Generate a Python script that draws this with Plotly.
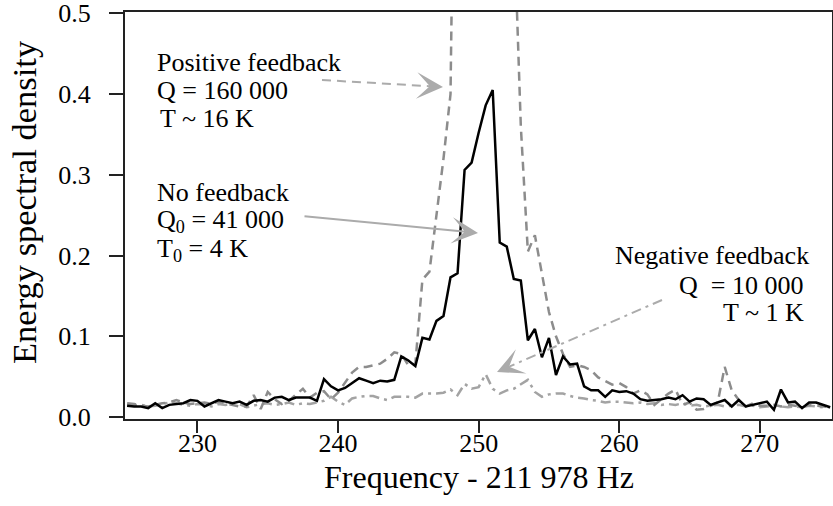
import plotly.graph_objects as go

# ---------------- data ----------------
freq = [225.0, 225.5, 226.0, 226.5, 227.0, 227.5, 228.0, 228.5, 229.0, 229.5,
        230.0, 230.5, 231.0, 231.5, 232.0, 232.5, 233.0, 233.5, 234.0, 234.5,
        235.0, 235.5, 236.0, 236.5, 237.0, 237.5, 238.0, 238.5, 239.0, 239.5,
        240.0, 240.5, 241.0, 241.5, 242.0, 242.5, 243.0, 243.5, 244.0, 244.5,
        245.0, 245.5, 246.0, 246.5, 247.0, 247.5, 248.0, 248.5, 249.0, 249.5,
        250.0, 250.5, 251.0, 251.5, 252.0, 252.5, 253.0, 253.5, 254.0, 254.5,
        255.0, 255.5, 256.0, 256.5, 257.0, 257.5, 258.0, 258.5, 259.0, 259.5,
        260.0, 260.5, 261.0, 261.5, 262.0, 262.5, 263.0, 263.5, 264.0, 264.5,
        265.0, 265.5, 266.0, 266.5, 267.0, 267.5, 268.0, 268.5, 269.0, 269.5,
        270.0, 270.5, 271.0, 271.5, 272.0, 272.5, 273.0, 273.5, 274.0, 274.5,
        275.0]

no_feedback = [0.014, 0.013, 0.013, 0.011, 0.017, 0.011, 0.015, 0.016, 0.017, 0.021,
               0.020, 0.013, 0.017, 0.021, 0.019, 0.017, 0.019, 0.015, 0.020, 0.021,
               0.019, 0.024, 0.025, 0.021, 0.024, 0.024, 0.024, 0.020, 0.047, 0.038,
               0.033, 0.036, 0.042, 0.048, 0.045, 0.042, 0.045, 0.044, 0.046, 0.075,
               0.070, 0.063, 0.098, 0.096, 0.119, 0.125, 0.173, 0.178, 0.306, 0.315,
               0.352, 0.386, 0.405, 0.216, 0.211, 0.171, 0.169, 0.095, 0.109, 0.074,
               0.098, 0.052, 0.075, 0.065, 0.066, 0.038, 0.033, 0.033, 0.025, 0.033,
               0.031, 0.032, 0.029, 0.022, 0.020, 0.021, 0.022, 0.024, 0.022, 0.027,
               0.019, 0.023, 0.022, 0.015, 0.018, 0.021, 0.013, 0.021, 0.013, 0.015,
               0.017, 0.019, 0.009, 0.034, 0.018, 0.019, 0.011, 0.018, 0.018, 0.015,
               0.012]

positive_feedback = [0.017, 0.016, 0.014, 0.013, 0.015, 0.017, 0.018, 0.021, 0.018, 0.016,
                     0.017, 0.018, 0.016, 0.019, 0.017, 0.015, 0.013, 0.013, 0.027, 0.010,
                     0.031, 0.022, 0.016, 0.020, 0.027, 0.035, 0.024, 0.030, 0.032, 0.022,
                     0.030, 0.042, 0.055, 0.062, 0.062, 0.064, 0.066, 0.072, 0.080, 0.078,
                     0.064, 0.066, 0.170, 0.180, 0.250, 0.320, 0.400, 1.600, 2.500, 3.200,
                     3.600, 3.800, 3.600, 3.000, 1.800, 0.620, 0.360, 0.205, 0.225, 0.178,
                     0.130, 0.100, 0.078, 0.062, 0.064, 0.062, 0.058, 0.049, 0.044, 0.040,
                     0.042, 0.037, 0.029, 0.033, 0.028, 0.015, 0.022, 0.029, 0.034, 0.015,
                     0.018, 0.009, 0.010, 0.014, 0.018, 0.062, 0.033, 0.021, 0.013, 0.017,
                     0.014, 0.014, 0.015, 0.013, 0.015, 0.014, 0.012, 0.015, 0.014, 0.013,
                     0.012]

negative_feedback = [0.015, 0.014, 0.015, 0.013, 0.014, 0.016, 0.018, 0.017, 0.015, 0.014,
                     0.016, 0.015, 0.013, 0.016, 0.015, 0.017, 0.016, 0.012, 0.014, 0.016,
                     0.017, 0.015, 0.016, 0.018, 0.015, 0.017, 0.016, 0.018, 0.020, 0.025,
                     0.019, 0.015, 0.023, 0.025, 0.026, 0.026, 0.023, 0.021, 0.025, 0.025,
                     0.025, 0.024, 0.029, 0.029, 0.029, 0.030, 0.034, 0.027, 0.041, 0.035,
                     0.037, 0.053, 0.035, 0.029, 0.033, 0.035, 0.041, 0.046, 0.031, 0.025,
                     0.028, 0.029, 0.029, 0.026, 0.024, 0.023, 0.021, 0.020, 0.018, 0.019,
                     0.019, 0.018, 0.017, 0.018, 0.016, 0.017, 0.015, 0.016, 0.015, 0.017,
                     0.014, 0.015, 0.013, 0.014, 0.015, 0.013, 0.014, 0.015, 0.013, 0.014,
                     0.012, 0.013, 0.014, 0.013, 0.012, 0.013, 0.012, 0.014, 0.013, 0.012,
                     0.012]

x_ticks = [230, 240, 250, 260, 270]
y_ticks = [0.0, 0.1, 0.2, 0.3, 0.4, 0.5]
x_title = "Frequency - 211 978 Hz"
y_title = "Energy spectral density"

# ---------------- layout geometry ----------------
W, H = 833, 506
L, R, T, B = 125, 1, 12, 87
X_RANGE = [224.85, 275.13]
Y_RANGE = [-0.0025, 0.5016]
PW, PH = W - L - R, H - T - B

def px2paper_x(px):
    return (px - L) / PW

def py2paper_y(py):
    return (H - B - py) / PH

FONT = "Liberation Serif, Times New Roman, serif"
DASH_COL = "#8c8c8c"
DDOT_COL = "#a3a3a3"
ARROW_COL = "#ababab"

fig = go.Figure()
fig.add_trace(go.Scatter(x=freq, y=negative_feedback, mode="lines",
                         line=dict(color=DDOT_COL, width=2.5, dash="10px,5px,3px,5px"),
                         name="Negative feedback"))
fig.add_trace(go.Scatter(x=freq, y=positive_feedback, mode="lines",
                         line=dict(color=DASH_COL, width=2.5, dash="9px,6px"),
                         name="Positive feedback"))
fig.add_trace(go.Scatter(x=freq, y=no_feedback, mode="lines",
                         line=dict(color="#000000", width=2.5),
                         name="No feedback"))

annotations = []
shapes = []

def text(px, py, s, anchor="left", size=26, angle=0):
    annotations.append(dict(x=px2paper_x(px), y=py2paper_y(py), xref="paper", yref="paper",
                            text=s, showarrow=False, xanchor=anchor, yanchor="middle",
                            textangle=angle,
                            font=dict(family=FONT, size=size, color="#000")))

text(155, 62, "Positive feedback")
text(155, 90, "Q = 160 000")
text(158, 118, "T ~ 16 K")
text(155, 193, "No feedback")
text(155, 221, "Q<sub>0</sub> = 41 000")
text(155, 250, "T<sub>0</sub> = 4 K")
text(811, 255, "Negative feedback", anchor="right")
text(805, 285, "Q\u00a0\u00a0= 10 000", anchor="right")
text(806, 312, "T ~ 1 K", anchor="right")

# axis titles
text(L + PW / 2, 477, x_title, anchor="center", size=32)
text(24, 202, y_title, anchor="center", size=34.5, angle=-90)

HEAD = dict(arrowhead=3, arrowsize=2.2, arrowwidth=2, arrowcolor=ARROW_COL,
            showarrow=True, text="", axref="pixel", ayref="pixel", standoff=0)

def arrow(x0, y0, x1, y1, dash=None, color=ARROW_COL):
    # x0,y0 tail ; x1,y1 tip (pixels)
    dx, dy = x0 - x1, y0 - y1
    ln = (dx * dx + dy * dy) ** 0.5
    if dash is None:
        annotations.append(dict(x=px2paper_x(x1), y=py2paper_y(y1), xref="paper", yref="paper",
                                ax=dx, ay=dy, **HEAD))
    else:
        nx, ny = x1 + dx / ln * 14, y1 + dy / ln * 14
        shapes.append(dict(type="line", xref="paper", yref="paper",
                           x0=px2paper_x(x0), y0=py2paper_y(y0),
                           x1=px2paper_x(nx), y1=py2paper_y(ny),
                           line=dict(color=color, width=2, dash=dash)))
        annotations.append(dict(x=px2paper_x(x1), y=py2paper_y(y1), xref="paper", yref="paper",
                                ax=dx / ln * 14, ay=dy / ln * 14, **HEAD))

arrow(322, 80, 443, 87, dash="9px,6px")
arrow(303, 216, 478, 233)
arrow(662, 300, 497, 372, dash="10px,5px,3px,5px")

axis_common = dict(showline=True, linecolor="#222", linewidth=2, mirror=True,
                   ticks="outside", ticklen=12, tickwidth=2, tickcolor="#222",
                   showgrid=False, zeroline=False, automargin=False,
                   ticklabeloverflow="allow",
                   tickfont=dict(family=FONT, size=26, color="#000"))

fig.update_layout(
    width=W, height=H,
    margin=dict(l=L, r=R, t=T, b=B, autoexpand=False),
    paper_bgcolor="white", plot_bgcolor="white",
    showlegend=False,
    xaxis=dict(range=X_RANGE, tickvals=x_ticks, ticklabelstandoff=-12, **axis_common),
    yaxis=dict(range=Y_RANGE, tickvals=y_ticks, tickformat=".1f", ticklabelstandoff=13,
               **axis_common),
    annotations=annotations,
    shapes=shapes,
)
fig.update_yaxes(ticklen=14)

fig.write_html("out.html", config={"displayModeBar": False},
               post_script="document.body.style.margin='0';document.body.style.padding='0';")
